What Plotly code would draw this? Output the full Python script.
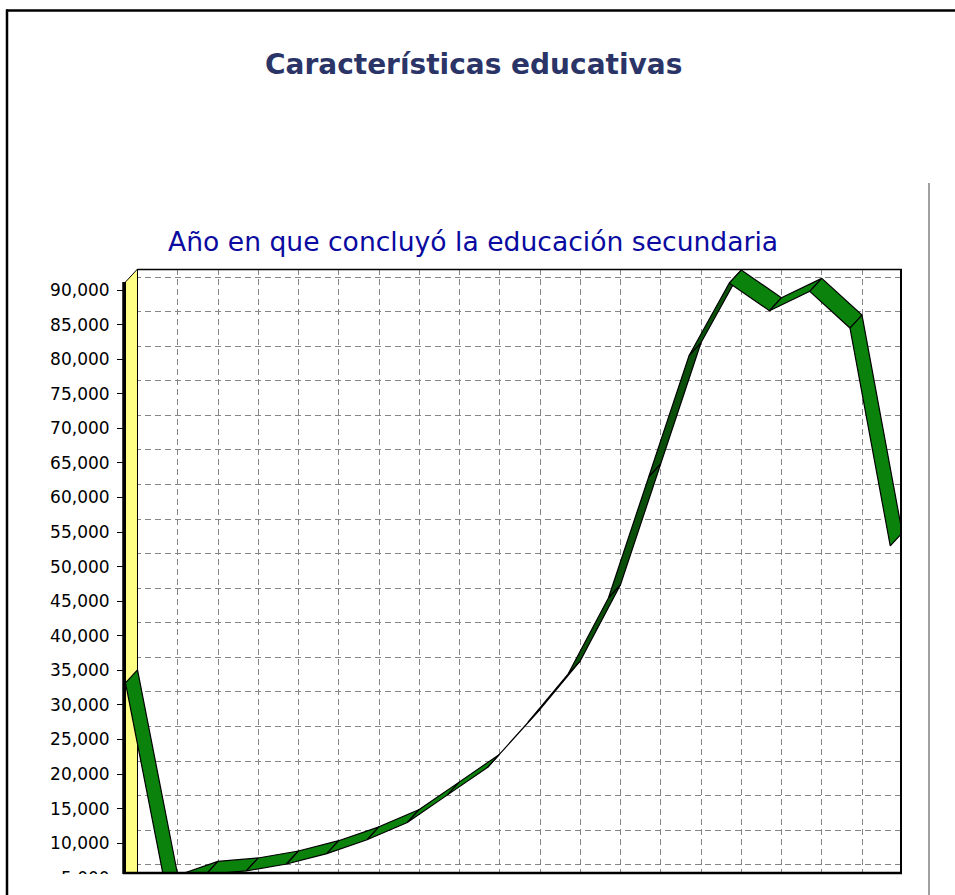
import plotly.graph_objects as go

# ---------------- data ----------------
positions = [0, 1, 2, 3, 4, 5, 6, 7, 8, 9, 10, 11, 12, 13, 14, 15, 16, 17, 18, 19]
persons = [33200, 3500, 5500, 6000, 7000, 8500, 10500, 13000, 17000, 21000,
           27500, 34500, 45500, 63000, 80500, 91000, 87000, 89800, 84500, 53000]
y_tick_values = [5000, 10000, 15000, 20000, 25000, 30000, 35000, 40000, 45000,
                 50000, 55000, 60000, 65000, 70000, 75000, 80000, 85000, 90000]
y_tick_labels = ["5,000", "10,000", "15,000", "20,000", "25,000", "30,000",
                 "35,000", "40,000", "45,000", "50,000", "55,000", "60,000",
                 "65,000", "70,000", "75,000", "80,000", "85,000", "90,000"]
title_text = "Características educativas"
subtitle_text = "Año en que concluyó la educación secundaria"

# ---------------- geometry ----------------
W, H = 955, 895
PL, PR, PT, PB = 125, 902, 269, 895          # plot area in pixels
CAT_PX = 40.25                                # pixels per category
PX_PER_UNIT = 6.916 / 1000                    # pixels per person
X_RANGE = [-0.5 / CAT_PX, (PR - 125.5) / CAT_PX]
Y_RANGE = [90000 - (PB - 290) / PX_PER_UNIT, 90000 + (290 - PT) / PX_PER_UNIT]
DEPTH_PX = (12, -13)
DX = DEPTH_PX[0] / CAT_PX
DY = -DEPTH_PX[1] / PX_PER_UNIT

def px_x(px):
    return (px - PL) / (PR - PL)

def px_y(py):
    return (PB - py) / (PB - PT)

GREEN = "#0b820b"
DARK_GREEN = "#0a500a"
GRID = "#858585"

fig = go.Figure()

# left (yellow) wall of the 3-D box
wall_top_front = 90000 + (290 - 282) / PX_PER_UNIT
fig.add_trace(go.Scatter(
    x=[X_RANGE[0], X_RANGE[0], DX, DX, X_RANGE[0]],
    y=[Y_RANGE[0], Y_RANGE[1], Y_RANGE[1], Y_RANGE[0], Y_RANGE[0]],
    mode="lines", fill="toself", fillcolor="white", line=dict(width=0),
    showlegend=False, hoverinfo="skip"))
fig.add_trace(go.Scatter(
    x=[0, 0, DX, DX, 0],
    y=[Y_RANGE[0], wall_top_front, wall_top_front + DY, Y_RANGE[0], Y_RANGE[0]],
    mode="lines", fill="toself", fillcolor="#ffff85",
    line=dict(color="black", width=1),
    showlegend=False, hoverinfo="skip"))

# 3-D ribbon for the series
for i in range(len(positions) - 1):
    x0, x1 = positions[i], positions[i + 1]
    y0, y1 = persons[i], persons[i + 1]
    sx = (x1 - x0) * CAT_PX
    sy = -(y1 - y0) * PX_PER_UNIT
    cross = sx * DEPTH_PX[1] - sy * DEPTH_PX[0]
    color = DARK_GREEN if cross > 0 else GREEN
    fig.add_trace(go.Scatter(
        x=[x0, x1, x1 + DX, x0 + DX, x0],
        y=[y0, y1, y1 + DY, y0 + DY, y0],
        mode="lines", fill="toself", fillcolor=color,
        line=dict(color="black", width=1.2),
        showlegend=False, hoverinfo="skip"))

# dummy trace for the back-wall grid axis
fig.add_trace(go.Scatter(x=[None], y=[None], yaxis="y2", showlegend=False,
                         hoverinfo="skip"))

shapes = [
    # back wall borders
    dict(type="line", xref="paper", yref="paper", x0=px_x(137.5), x1=px_x(902),
         y0=px_y(269.5), y1=px_y(269.5), line=dict(color="black", width=1.5)),
    dict(type="line", xref="paper", yref="paper", x0=px_x(901), x1=px_x(901),
         y0=px_y(269), y1=px_y(873), line=dict(color="black", width=2)),
    # front axis line
    dict(type="line", xref="paper", yref="paper", x0=px_x(124), x1=px_x(124),
         y0=px_y(282), y1=px_y(874), line=dict(color="black", width=3.5)),
    # crop of the original picture
    dict(type="rect", xref="paper", yref="paper", x0=px_x(9), x1=px_x(955),
         y0=px_y(874), y1=px_y(896), fillcolor="white", line=dict(width=0),
         layer="above"),
    dict(type="line", xref="paper", yref="paper", x0=px_x(123), x1=px_x(902),
         y0=px_y(873), y1=px_y(873), line=dict(color="black", width=2.5)),
    # separator line on the right
    dict(type="line", xref="paper", yref="paper", x0=px_x(929), x1=px_x(929),
         y0=px_y(183), y1=px_y(896), line=dict(color="#a0a0a0", width=2)),
    # outer frame (top and left)
    dict(type="line", xref="paper", yref="paper", x0=px_x(7), x1=px_x(7),
         y0=px_y(9.5), y1=px_y(896), line=dict(color="black", width=2.5)),
    dict(type="line", xref="paper", yref="paper", x0=px_x(6), x1=px_x(956),
         y0=px_y(10.5), y1=px_y(10.5), line=dict(color="black", width=2.5)),
]

annotations = [
    dict(text=title_text, xref="paper", yref="paper", x=px_x(473.5), y=px_y(64),
         xanchor="center", yanchor="middle", showarrow=False,
         font=dict(family="DejaVu Sans", size=28, color="#2b3467", weight="bold")),
    dict(text=subtitle_text, xref="paper", yref="paper", x=px_x(472.5), y=px_y(241),
         xanchor="center", yanchor="middle", showarrow=False,
         font=dict(family="DejaVu Sans", size=26.6, color="#0a0aa0")),
]

fig.update_layout(
    width=W, height=H,
    margin=dict(l=PL, r=W - PR, t=PT, b=H - PB, pad=0),
    paper_bgcolor="white", plot_bgcolor="white",
    showlegend=False, hovermode=False,
    xaxis=dict(range=X_RANGE, tick0=DX, dtick=1, showgrid=True,
               gridcolor=GRID, gridwidth=1, griddash="6px,4px",
               showticklabels=False, ticks="", showline=False, zeroline=False,
               fixedrange=True),
    yaxis=dict(range=Y_RANGE, tickvals=y_tick_values, ticktext=y_tick_labels,
               ticks="outside", ticklen=7, tickwidth=1, tickcolor="black",
               ticklabelstandoff=4,
               showgrid=False, showline=False, zeroline=False,
               tickfont=dict(family="DejaVu Sans", size=17, color="black"),
               fixedrange=True),
    yaxis2=dict(range=Y_RANGE, overlaying="y", side="left", tick0=DY, dtick=5000,
                showgrid=True, gridcolor=GRID, gridwidth=1, griddash="6px,4px",
                showticklabels=False, ticks="", showline=False, zeroline=False,
                fixedrange=True),
    shapes=shapes,
    annotations=annotations,
)

fig.write_html(
    "out.html",
    config={"displayModeBar": False},
    post_script="document.body.style.margin='0';document.body.style.overflow='hidden';",
)
